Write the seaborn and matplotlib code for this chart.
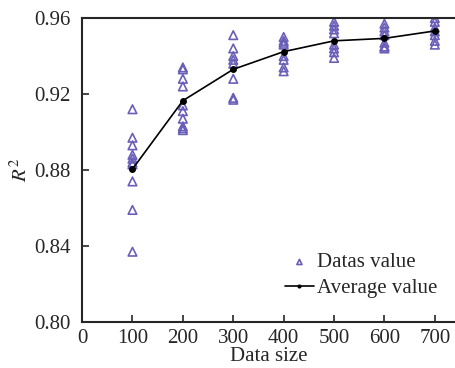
import pandas as pd
import matplotlib
matplotlib.use("Agg")
import matplotlib.pyplot as plt
import seaborn as sns

# values
sizes = [100, 200, 300, 400, 500, 600, 700]
r2_100 = [0.912, 0.897, 0.893, 0.888, 0.886, 0.884, 0.883, 0.874, 0.859, 0.837]
r2_200 = [0.934, 0.933, 0.928, 0.924, 0.914, 0.911, 0.907, 0.903, 0.902, 0.901]
r2_300 = [0.951, 0.944, 0.940, 0.938, 0.936, 0.928, 0.918, 0.917]
r2_400 = [0.950, 0.948, 0.947, 0.946, 0.940, 0.938, 0.934, 0.932]
r2_500 = [0.958, 0.956, 0.954, 0.952, 0.946, 0.944, 0.942, 0.939]
r2_600 = [0.957, 0.955, 0.953, 0.951, 0.947, 0.945, 0.945, 0.944]
r2_700 = [0.960, 0.958, 0.955, 0.953, 0.951, 0.948, 0.946]
avg_r2 = [0.8805, 0.9165, 0.933, 0.9423, 0.948, 0.9493, 0.9532]

x_ticks = [0, 100, 200, 300, 400, 500, 600, 700]
y_ticks = [0.80, 0.84, 0.88, 0.92, 0.96]

groups = [r2_100, r2_200, r2_300, r2_400, r2_500, r2_600, r2_700]
points = pd.DataFrame(
    [(s, v) for s, vals in zip(sizes, groups) for v in vals],
    columns=["size", "r2"],
)
avg = pd.DataFrame({"size": sizes, "r2": avg_r2})

sns.set_style("ticks")
plt.rcParams["font.family"] = ["Liberation Serif", "DejaVu Serif"]
plt.rcParams["mathtext.fontset"] = "stix"

fig = plt.figure(figsize=(4.56, 3.68), dpi=100)
ax = fig.add_axes([0.18, 0.125, 0.82, 0.826])

purple = "#6a5fb8"
sns.scatterplot(data=points, x="size", y="r2", ax=ax, marker="^",
                s=38, facecolor="none", edgecolor=purple, linewidth=1.2,
                label="Datas value", zorder=2)
sns.lineplot(data=avg, x="size", y="r2", ax=ax, color="black",
             linewidth=1.2, marker="o", markersize=5, markeredgewidth=0,
             label="Average value", zorder=3)

ax.set_xlim(0, 742)
ax.set_ylim(0.80, 0.96)
ax.set_xticks(x_ticks)
ax.set_yticks(y_ticks)
ax.set_yticklabels([f"{v:.2f}" for v in y_ticks])
ax.tick_params(direction="in", length=5, width=1.2, labelsize=15)
ax.tick_params(axis="y", pad=8)
ax.tick_params(axis="x", pad=5)
ax.tick_params(top=False, right=False)
for side in ["left", "bottom", "top"]:
    ax.spines[side].set_linewidth(1.5)
ax.spines["right"].set_visible(False)

ax.set_xlabel("Data size", fontsize=15, labelpad=-1)
ax.set_ylabel(r"$R^2$", fontsize=15, labelpad=2)

leg = ax.legend(loc="lower right", frameon=False, fontsize=15,
                handlelength=1.4, handletextpad=0.15, labelspacing=0.3,
                markerscale=0.6, borderaxespad=0.2,
                bbox_to_anchor=(0.984, 0.037))

fig.savefig("out.png", dpi=100)
